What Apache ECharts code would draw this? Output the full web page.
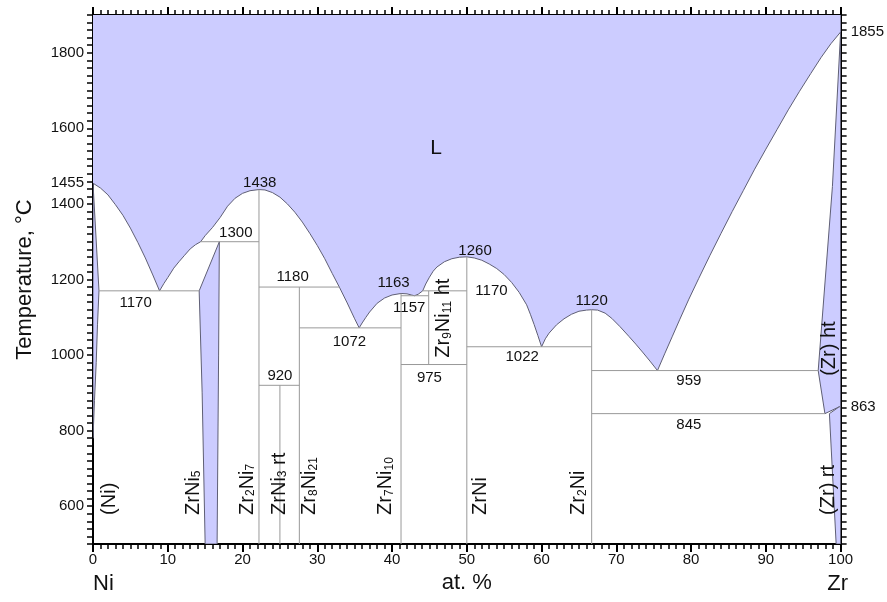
<!DOCTYPE html>
<html><head><meta charset="utf-8">
<script src="https://cdn.jsdelivr.net/npm/echarts@6/dist/echarts.min.js"></script>
<style>html,body{margin:0;padding:0;background:#fff}#c{width:887px;height:602px}</style>
</head><body><div id="c"></div>
<script>
// ---- data (composition at.% Zr, temperature °C) ----
const liquidus = [
  [0,1455],[1,1442],[2,1424],[3,1398],[4,1370],[5,1336],[6,1298],[7,1257],[8,1212],[8.9,1170],
  [9.5,1190],[10,1205],[10.8,1230],[11.5,1247],[12.2,1263],[13,1281],[13.7,1292],[14.4,1300],
  [15,1316],[16,1338],[17,1364],[18,1394],[19,1415],[20,1428],[21,1435],[22.2,1438],
  [23,1437],[24,1430],[25,1418],[26,1400],[27,1378],[28,1352],[29,1322],[30,1290],[31,1255],
  [32,1216],[33,1178],[34,1138],[35,1096],[35.6,1072],
  [36,1085],[36.5,1100],[37,1114],[38,1137],[39,1151],[40,1159],[41.2,1163],
  [42,1162],[42.6,1159],[43,1157],[43.5,1161],[44.1,1170],[44.5,1188],[45,1206],[45.5,1222],
  [46,1233],[47,1247],[48,1255],[49,1259],[50,1260],
  [51,1257],[52,1251],[53,1241],[54,1229],[55,1213],[56,1192],[57,1166],[58,1133],[58.5,1108],
  [59,1081],[59.5,1052],[60,1022],
  [60.5,1043],[61,1058],[62,1080],[63,1096],[64,1108],[65,1116],[66,1119],[66.7,1120],
  [67.5,1119],[68.5,1111],[69.4,1097],[70.5,1075],[71.7,1049],[72.6,1029],[73.5,1008],[74.5,984],[75.5,959],
  [76.5,1005],[77.5,1050],[78.5,1095],[79.7,1148],[81,1202],[82.5,1263],[84,1322],[85.5,1380],
  [87,1436],[88.5,1492],[90,1545],[91.5,1597],[93,1649],[94.5,1698],[96,1745],[97.4,1788],
  [98.7,1824],[100,1855]
];
const niSolid   = [[0,1455],[0.8,1170],[0.6,1080],[0.43,980],[0.2,880],[0,780]];
const zrNi5     = [[16.9,1300],[14.2,1170],[14.6,900],[15.0,500],[16.6,500],[16.8,1000]];
const zrHt      = [[100,1855],[98.9,1446],[97.0,959],[97.9,845],[99.8,863],[100,863]];
const zrRt      = [[98.5,845],[99.8,863],[100,863],[100,500],[99.4,500]];
const solidRegions = [niSolid, zrNi5, zrHt, zrRt];

// horizontal invariants: [xStart, xEnd, T]
const invariantH = [
  [0.8,14.2,1170],[14.4,22.2,1300],[22.2,32.9,1180],[22.2,27.6,920],[27.6,41.2,1072],
  [41.2,44.9,1157],[44.1,50,1170],[41.2,50,975],[50,66.7,1022],[66.7,97.0,959],[66.7,97.9,845]
];
// compound lines: [x, Tlow, Thigh]
const compoundV = [
  [22.2,500,1438],[25,500,920],[27.6,500,1180],[41.2,500,1163],[44.9,975,1170],[50,500,1260],[66.7,500,1120]
];
// temperature annotations: [text, x, T]
const tempLabels = [
  ['1438',22.3,1457],['1300',19.1,1323],['1170',5.7,1139],['1180',26.7,1206],['920',25.0,945],
  ['1072',34.3,1034],['1163',40.2,1190],['1157',42.3,1126],['975',45.0,941],['1260',51.1,1277],
  ['1170',53.3,1170],['1022',57.4,996],['1120',66.7,1144],['959',79.7,931],['845',79.7,816]
];
// phase names (rotated): [text, x, T at text start]
const phaseLabels = [
  ['(Ni)',2.2,577],['ZrNi{s|5}',13.4,577],['Zr{s|2}Ni{s|7}',20.6,577],['ZrNi{s|3} rt',24.9,577],
  ['Zr{s|8}Ni{s|21}',29.0,577],['Zr{s|7}Ni{s|10}',39.1,577],['ZrNi',51.8,577],['Zr{s|2}Ni',65.0,577],
  ['Zr{s|9}Ni{s|11} ht',46.9,993],['(Zr) ht',98.5,945],['(Zr) rt',98.4,577]
];
const liquidLabel = ['L',45.9,1548];
const xTickStep = 10;
const yTickStep = 20;
const leftLabelValues = [600,800,1000,1200,1400,1455,1600,1800];
const rightLabelValues = [863,1855];

// ---- styling ----
const FONT = 'Liberation Sans, Arial, sans-serif';
const FILL = '#ccccff';
const CURVE = '#5f5f75';
const INV = '#999999';

function xAxisDef(extra){
  return Object.assign({
    type:'value',min:0,max:100,interval:xTickStep,
    axisLine:{show:true,onZero:false,lineStyle:{color:'#000',width:2}},
    axisTick:{show:true,length:8,lineStyle:{color:'#000',width:2}},
    minorTick:{show:true,splitNumber:10,length:5,lineStyle:{color:'#000',width:1.5}},
    splitLine:{show:false}
  }, extra);
}
function yAxisDef(extra){
  return Object.assign({
    type:'value',min:500,max:1900,interval:yTickStep,
    axisLine:{show:true,onZero:false,lineStyle:{color:'#000',width:2}},
    axisTick:{show:true,interval:0,length:6,lineStyle:{color:'#000',width:1.5}},
    splitLine:{show:false}
  }, extra);
}
const plain = v => String(v);

const chart = echarts.init(document.getElementById('c'), null, {renderer:'canvas'});
chart.setOption({
  animation:false,
  backgroundColor:'#fff',
  textStyle:{fontFamily:FONT},
  grid:{left:93,right:45,top:15,bottom:58},
  xAxis:[
    xAxisDef({position:'bottom',
      axisLabel:{fontSize:15,color:'#111',margin:8,fontFamily:FONT,formatter:plain},
      name:'at. %',nameLocation:'middle',nameGap:27,
      nameTextStyle:{fontSize:22,color:'#111',fontFamily:FONT}}),
    xAxisDef({position:'top',axisLabel:{show:false}})
  ],
  yAxis:[
    yAxisDef({position:'left',
      axisLabel:{fontSize:15,color:'#111',margin:9,fontFamily:FONT,customValues:leftLabelValues,formatter:plain},
      name:'Temperature, °C',nameLocation:'middle',nameGap:57,
      nameTextStyle:{fontSize:22,color:'#111',fontFamily:FONT}}),
    yAxisDef({position:'right',
      axisLabel:{fontSize:15,color:'#111',margin:10,fontFamily:FONT,customValues:rightLabelValues,formatter:plain}})
  ],
  graphic:[
    {type:'text',left:93,top:573,style:{text:'Ni',font:'22px '+FONT,fill:'#111'}},
    {type:'text',right:39,top:573,style:{text:'Zr',font:'22px '+FONT,fill:'#111'}}
  ],
  series:[
    {type:'line',data:liquidus,showSymbol:false,symbol:'none',z:1,
      lineStyle:{color:CURVE,width:1},
      areaStyle:{color:FILL,opacity:1,origin:'end'}},
    {type:'custom',z:2,clip:true,data:solidRegions.map(p=>p[0]),
      renderItem:(params,api)=>({type:'polygon',
        shape:{points:solidRegions[params.dataIndex].map(p=>api.coord(p))},
        style:{fill:FILL,stroke:CURVE,lineWidth:1}})},
    {type:'custom',z:3,clip:true,data:invariantH.map(d=>[d[0],d[2]]),
      renderItem:(params,api)=>{const d=invariantH[params.dataIndex];
        const a=api.coord([d[0],d[2]]),b=api.coord([d[1],d[2]]);
        return {type:'line',shape:{x1:a[0],y1:a[1],x2:b[0],y2:b[1]},style:{stroke:INV,lineWidth:1}};}},
    {type:'custom',z:3,clip:true,data:compoundV.map(d=>[d[0],d[1]]),
      renderItem:(params,api)=>{const d=compoundV[params.dataIndex];
        const a=api.coord([d[0],d[1]]),b=api.coord([d[0],d[2]]);
        return {type:'line',shape:{x1:a[0],y1:a[1],x2:b[0],y2:b[1]},style:{stroke:INV,lineWidth:1}};}},
    {type:'custom',z:5,data:tempLabels.map(d=>[d[1],d[2]]),
      renderItem:(params,api)=>{const d=tempLabels[params.dataIndex];const p=api.coord([d[1],d[2]]);
        return {type:'text',x:p[0],y:p[1],style:{text:d[0],fontSize:15,fontFamily:FONT,fill:'#111',align:'center',verticalAlign:'middle'}};}},
    {type:'custom',z:5,data:phaseLabels.map(d=>[d[1],d[2]]),
      renderItem:(params,api)=>{const d=phaseLabels[params.dataIndex];const p=api.coord([d[1],d[2]]);
        return {type:'text',x:p[0],y:p[1],rotation:Math.PI/2,
          style:{text:d[0],fontSize:20,fontFamily:FONT,fill:'#111',align:'left',verticalAlign:'middle',
            rich:{s:{fontSize:12,fontFamily:FONT,fill:'#111',verticalAlign:'bottom',padding:[6,0,0,0]}}}};}},
    {type:'custom',z:5,data:[[liquidLabel[1],liquidLabel[2]]],
      renderItem:(params,api)=>{const p=api.coord([liquidLabel[1],liquidLabel[2]]);
        return {type:'text',x:p[0],y:p[1],style:{text:liquidLabel[0],fontSize:21,fontFamily:FONT,fill:'#111',align:'center',verticalAlign:'middle'}};}}
  ]
});
</script></body></html>
